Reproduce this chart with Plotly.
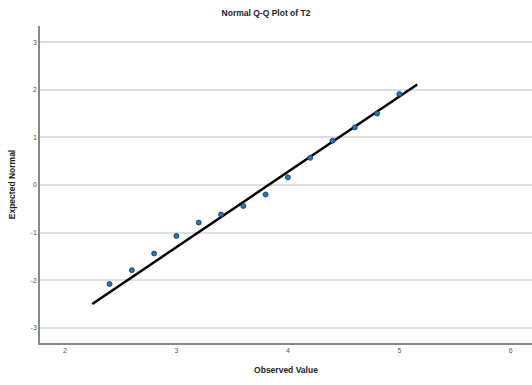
import plotly.graph_objects as go

obs_x = [2.4, 2.6, 2.8, 3.0, 3.2, 3.4, 3.6, 3.8, 4.0, 4.2, 4.4, 4.6, 4.8, 5.0]
exp_y = [-2.08, -1.79, -1.44, -1.07, -0.79, -0.62, -0.44, -0.20, 0.16, 0.57, 0.93, 1.21, 1.50, 1.91]

# Reference line endpoints
line_x = [2.245, 5.16]
line_y = [-2.50, 2.11]

x_ticks = [2, 3, 4, 5, 6]
y_ticks = [-3, -2, -1, 0, 1, 2, 3]
y_tick_labels = [str(v) for v in y_ticks]

fig = go.Figure()
fig.add_trace(go.Scatter(x=line_x, y=line_y, mode="lines",
                         line=dict(color="black", width=2.5), showlegend=False))
fig.add_trace(go.Scatter(x=obs_x, y=exp_y, mode="markers",
                         marker=dict(color="#1f77c4", size=5,
                                     line=dict(color="#1a3550", width=0.8)),
                         showlegend=False))

fig.update_layout(
    width=532, height=385,
    margin=dict(l=40, r=0, t=26, b=42),
    plot_bgcolor="white", paper_bgcolor="white",
    font=dict(family="Liberation Sans, Arial, sans-serif", color="#222"),
    title=dict(text="<b>Normal Q-Q Plot of T2</b>", x=0.5, xanchor="center",
               y=1 - 13 / 385, yanchor="middle",
               font=dict(size=8.5, color="#222")),
    xaxis=dict(range=[1.776, 6.19], tickvals=x_ticks, showgrid=False,
               zeroline=False, showline=True, linecolor="#888", linewidth=1.5,
               ticks="", tickfont=dict(size=7, color="#555"),
               title=dict(text="<b>Observed Value</b>", font=dict(size=8.5, color="#222"),
                          standoff=14)),
    yaxis=dict(range=[-3.32, 3.34], tickvals=y_ticks, ticktext=y_tick_labels,
               showgrid=True, gridcolor="#dedede", gridwidth=1.5, zeroline=False,
               showline=True, linecolor="#888", linewidth=1.5,
               ticks="", tickfont=dict(size=7, color="#555"),
               title=dict(text="<b>Expected Normal</b>", font=dict(size=8.5, color="#222"),
                          standoff=14)),
)

fig.write_html("out.html")
